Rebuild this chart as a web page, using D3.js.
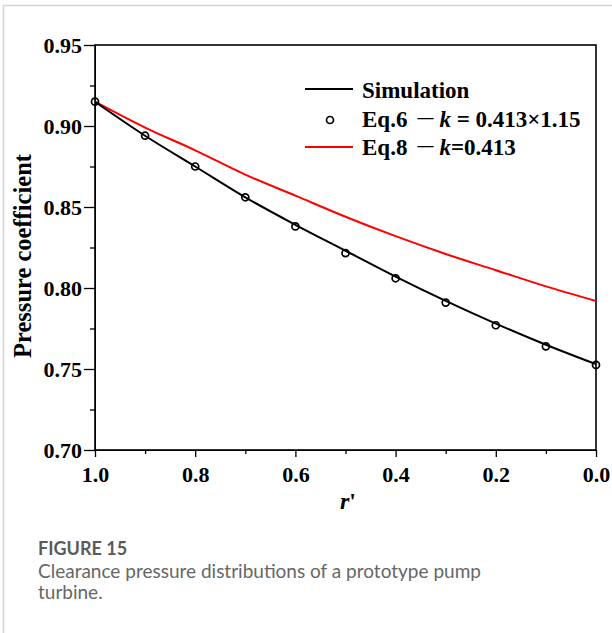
<!DOCTYPE html>
<html lang="en">
<head>
    <meta charset="UTF-8">
    <title>Clearance pressure</title>
    <script src="https://cdn.jsdelivr.net/npm/d3@7"></script>
    <style>
        body { margin: 0; background: #fff; }
        .tick text { font-family: "Liberation Serif", serif; font-weight: bold; }
    </style>
</head>
<body>
<script>
    // values
    const rPos = [1.0, 0.9, 0.8, 0.7, 0.6, 0.5, 0.4, 0.3, 0.2, 0.1, 0.0];
    const simulation = [0.915, 0.894, 0.875, 0.856, 0.839, 0.823, 0.807, 0.792, 0.778, 0.765, 0.753];
    const eq6 = [0.915, 0.894, 0.875, 0.856, 0.838, 0.8215, 0.806, 0.791, 0.777, 0.764, 0.7525];
    const eq8 = [0.915, 0.899, 0.885, 0.870, 0.857, 0.844, 0.832, 0.821, 0.811, 0.801, 0.792];
    const yMajor = [0.70, 0.75, 0.80, 0.85, 0.90, 0.95];
    const yMinor = [0.725, 0.775, 0.825, 0.875, 0.925];
    const xMajor = [1.0, 0.8, 0.6, 0.4, 0.2, 0.0];
    const xMinor = [0.9, 0.7, 0.5, 0.3, 0.1];

    const dim = {width: 612, height: 633};
    const box = {left: 95, right: 596, top: 45, bottom: 450};

    const svg = d3.select("body").append("svg")
        .attr("width", dim.width)
        .attr("height", dim.height);

    // page frame rules
    svg.append("line").attr("x1", 3).attr("x2", 612).attr("y1", 5.5).attr("y2", 5.5)
        .style("stroke", "#d4d4d4").style("stroke-width", 1.5);
    svg.append("line").attr("x1", 3.5).attr("x2", 3.5).attr("y1", 5).attr("y2", 633)
        .style("stroke", "#d4d4d4").style("stroke-width", 1.5);

    const x = d3.scaleLinear().domain([1, 0]).range([box.left, box.right]);
    const y = d3.scaleLinear().domain([0.70, 0.95]).range([box.bottom, box.top]);

    // minor ticks
    svg.append("g").attr("transform", `translate(0,${box.bottom})`)
        .call(d3.axisBottom(x).tickValues(xMinor).tickSize(4).tickFormat(""))
        .call(g => g.select(".domain").remove())
        .selectAll("line").style("stroke-width", 1.3);
    svg.append("g").attr("transform", `translate(${box.left},0)`)
        .call(d3.axisLeft(y).tickValues(yMinor).tickSize(5).tickFormat(""))
        .call(g => g.select(".domain").remove())
        .selectAll("line").style("stroke-width", 1.3);

    // major axes
    const xAxis = svg.append("g").attr("transform", `translate(0,${box.bottom})`)
        .call(d3.axisBottom(x).tickValues(xMajor).tickSize(7).tickSizeOuter(0).tickPadding(9)
            .tickFormat(d3.format(".1f")));
    xAxis.selectAll("text").style("font-size", "22px").attr("fill", "#000");
    xAxis.selectAll("line").style("stroke-width", 1.3);

    const yAxis = svg.append("g").attr("transform", `translate(${box.left},0)`)
        .call(d3.axisLeft(y).tickValues(yMajor).tickSize(11).tickSizeOuter(0).tickPadding(2)
            .tickFormat(d3.format(".2f")));
    yAxis.selectAll("text").style("font-size", "22px").attr("fill", "#000");
    yAxis.selectAll("line").style("stroke-width", 1.3);

    // frame
    svg.append("rect")
        .attr("x", box.left).attr("y", box.top)
        .attr("width", box.right - box.left).attr("height", box.bottom - box.top)
        .style("fill", "none").style("stroke", "#000").style("stroke-width", 1.6);

    const line = (vals) => d3.line()
        .x((d, i) => x(rPos[i]))
        .y(d => y(d))
        .curve(d3.curveMonotoneX)(vals);

    svg.append("path").attr("d", line(eq8))
        .style("fill", "none").style("stroke", "#ff0000").style("stroke-width", 2);
    svg.append("path").attr("d", line(simulation))
        .style("fill", "none").style("stroke", "#000").style("stroke-width", 2);

    svg.selectAll("circle.pt")
        .data(eq6)
        .join("circle")
        .attr("class", "pt")
        .attr("cx", (d, i) => x(rPos[i]))
        .attr("cy", d => y(d))
        .attr("r", 3.5)
        .style("fill", "none").style("stroke", "#000").style("stroke-width", 1.7);

    // axis titles
    svg.append("text")
        .attr("transform", `translate(31,256) rotate(-90)`)
        .attr("text-anchor", "middle")
        .style("font-family", "Liberation Serif, serif").style("font-weight", "bold")
        .style("font-size", "24.5px")
        .text("Pressure coefficient");

    const rl = svg.append("text")
        .attr("x", 348).attr("y", 509)
        .attr("text-anchor", "middle")
        .style("font-family", "Liberation Serif, serif").style("font-weight", "bold")
        .style("font-size", "24px");
    rl.append("tspan").style("font-style", "italic").text("r");
    rl.append("tspan").text("'");

    // legend
    const lg = svg.append("g").style("font-family", "Liberation Serif, serif")
        .style("font-weight", "bold").style("font-size", "23px");
    lg.append("line").attr("x1", 305).attr("x2", 353).attr("y1", 89).attr("y2", 89)
        .style("stroke", "#000").style("stroke-width", 2);
    lg.append("circle").attr("cx", 330).attr("cy", 120).attr("r", 3.5)
        .style("fill", "none").style("stroke", "#000").style("stroke-width", 1.7);
    lg.append("line").attr("x1", 305).attr("x2", 353).attr("y1", 147).attr("y2", 147)
        .style("stroke", "#ff0000").style("stroke-width", 2);

    lg.append("text").attr("x", 362).attr("y", 98).text("Simulation");

    function eqLabel(yPos, name, rest) {
        const t = lg.append("text").attr("x", 362).attr("y", yPos);
        t.append("tspan").text(name);
        t.append("tspan").attr("dx", 10).attr("dy", -4).style("font-size", "16px").text("\u2014");
        t.append("tspan").attr("dx", 6).attr("dy", 4).style("font-style", "italic").text("k");
        t.append("tspan").text(rest);
    }
    eqLabel(127, "Eq.6", " = 0.413\u00d71.15");
    eqLabel(155, "Eq.8", "=0.413");

    // caption
    const cap = svg.append("g").style("font-family", "Lato, 'Noto Sans', sans-serif");
    cap.append("text").attr("x", 38).attr("y", 555)
        .style("font-size", "18px").style("font-weight", "bold").style("fill", "#5a5a5a")
        .text("FIGURE 15");
    cap.append("text").attr("x", 38).attr("y", 578)
        .style("font-size", "19px").style("fill", "#666")
        .text("Clearance pressure distributions of a prototype pump");
    cap.append("text").attr("x", 38).attr("y", 599)
        .style("font-size", "19px").style("fill", "#666")
        .text("turbine.");
</script>
</body>
</html>
